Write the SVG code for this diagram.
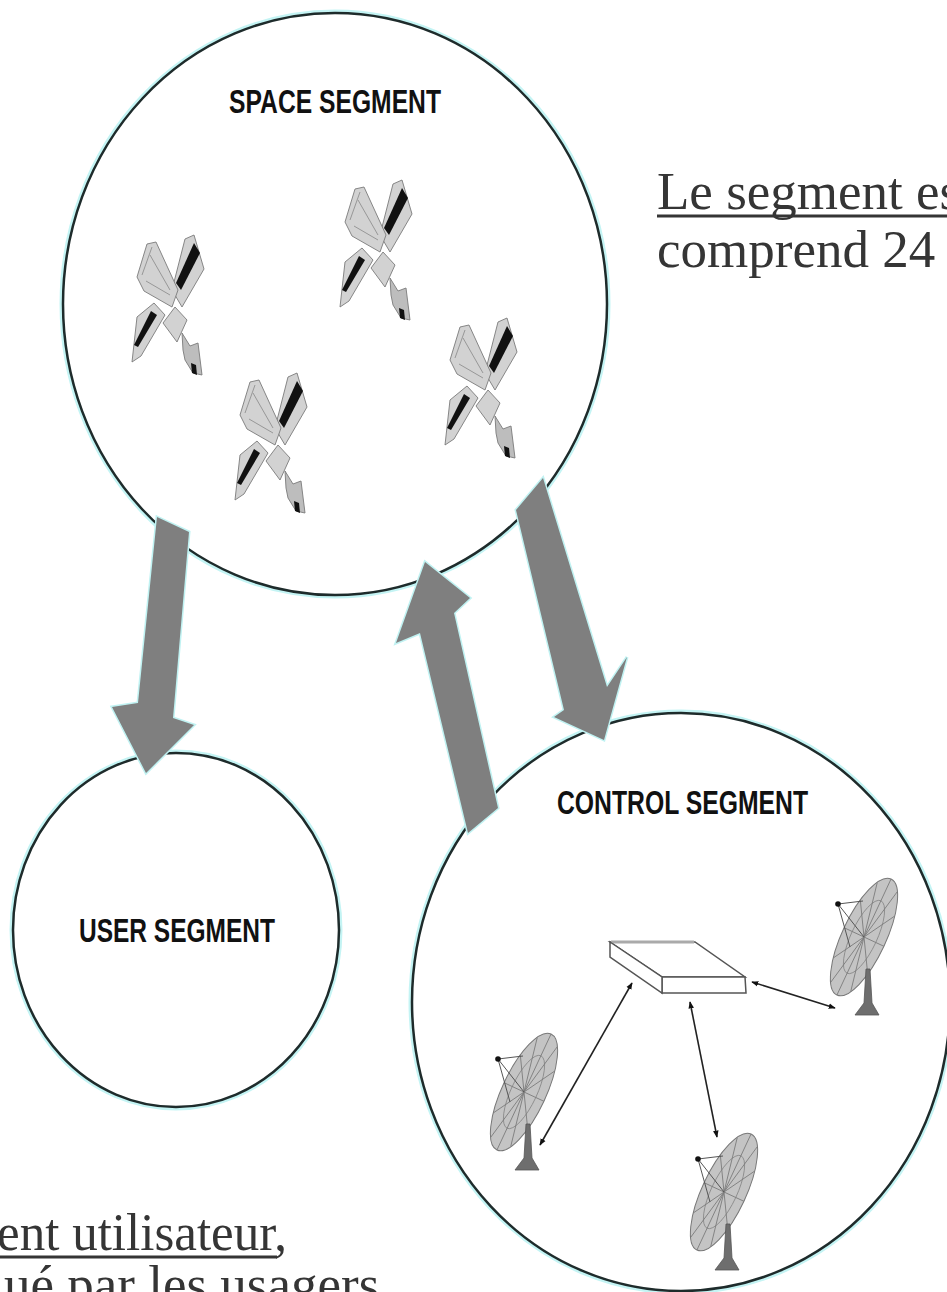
<svg xmlns="http://www.w3.org/2000/svg" xmlns:xlink="http://www.w3.org/1999/xlink" width="947" height="1292" viewBox="0 0 947 1292">
<style>
.seg{fill:#fff;stroke:#1e2b2b;stroke-width:2.5}
.halo{fill:none;stroke:#c4f4f4;stroke-width:7}
.lbl{font-family:"Liberation Sans",Arial,sans-serif;font-weight:bold;fill:#111}
.para{font-family:"Liberation Serif","Times New Roman",serif;font-size:53px;fill:#353535}
.big{fill:#7f7f7f;stroke:#c0f2f2;stroke-width:3;paint-order:stroke}
.sp{fill:#d2d2d2;stroke:#7a7a7a;stroke-width:0.9}
.blk{fill:#111}
.dl{stroke:#222;stroke-width:1.6;fill:none;marker-start:url(#ah);marker-end:url(#ah)}
.ul{stroke:#353535;stroke-width:3}
</style>
<defs>
<marker id="ah" viewBox="0 0 10 10" refX="9" refY="5" markerWidth="7" markerHeight="7" orient="auto-start-reverse" markerUnits="userSpaceOnUse">
<path d="M0,1 L10,5 L0,9 z" fill="#111"/>
</marker>
<g id="sat">
<polygon class="sp" points="55,4 64,0 74,34 52,72 42,55"/>
<polygon class="blk" points="64,8 70,18 51,55 46,48"/>
<polygon class="sp" points="2,127 7,82 24,68 35,80 11,121"/>
<polygon class="blk" points="4,110 21,76 27,80 8,112"/>
<polygon class="sp" points="7,42 17,9 26,7 48,55 42,72 14,56"/>
<path d="M12,40 L22,12 M16,46 L40,60 M20,20 L40,55" stroke="#888" stroke-width="0.8" fill="none"/>
<polygon class="sp" points="45,72 57,85 47,107 33,88" fill="#c8c8c8"/>
<polygon class="sp" points="52,98 60,111 68,108 72,140 63,138 55,125 53,115" style="fill:#bdbdbd"/>
<polygon class="blk" points="61,128 66,130 67,140 62,138"/>
</g>
<g id="dish">
<g transform="translate(31,60) rotate(25)">
<ellipse cx="0" cy="0" rx="22" ry="64" fill="#c4c4c4" stroke="#777" stroke-width="1"/>
<ellipse cx="0" cy="0" rx="13" ry="40" fill="none" stroke="#888" stroke-width="0.8"/>
<path d="M0,0 L0,-64 M0,0 L11,-55 M0,0 L19,-32 M0,0 L22,0 M0,0 L19,32 M0,0 L11,55 M0,0 L0,64 M0,0 L-11,55 M0,0 L-19,32 M0,0 L-22,0 M0,0 L-19,-32 M0,0 L-11,-55" stroke="#7a7a7a" stroke-width="0.8"/>
</g>
<path d="M5,27 L30,24 M5,27 L17,70 M5,27 L31,60" stroke="#555" stroke-width="1" fill="none"/>
<circle cx="5" cy="27" r="2.8" fill="#111"/>
<polygon points="33,92 37,92 39,126 46,138 22,138 31,126" fill="#6e6e6e" stroke="#555" stroke-width="0.8"/>
</g>
</defs>
<rect width="947" height="1292" fill="#fff"/>

<g id="space-segment">
<ellipse class="halo" cx="335" cy="304" rx="272" ry="291"/>
<ellipse class="seg" cx="335" cy="304" rx="272" ry="291"/>
<text class="lbl" x="229" y="113" font-size="33" textLength="212" lengthAdjust="spacingAndGlyphs">SPACE SEGMENT</text>
<use xlink:href="#sat" x="130" y="235"/>
<use xlink:href="#sat" x="338" y="180"/>
<use xlink:href="#sat" x="233" y="373"/>
<use xlink:href="#sat" x="443" y="318"/>
</g>

<g id="user-segment">
<ellipse class="halo" cx="176" cy="930" rx="163" ry="177"/>
<ellipse class="seg" cx="176" cy="930" rx="163" ry="177"/>
<text class="lbl" x="79" y="942" font-size="34" textLength="196" lengthAdjust="spacingAndGlyphs">USER SEGMENT</text>
</g>

<g id="control-segment">
<ellipse class="halo" cx="681" cy="1002" rx="269" ry="289"/>
<ellipse class="seg" cx="681" cy="1002" rx="269" ry="289"/>
<text class="lbl" x="557" y="814" font-size="34" textLength="251" lengthAdjust="spacingAndGlyphs">CONTROL SEGMENT</text>
<g id="control-station">
<polygon points="610,942 695,942 745,977 662,977" fill="#fff" stroke="#555" stroke-width="1.5"/>
<line x1="611" y1="942" x2="694" y2="942" stroke="#aaa" stroke-width="3"/>
<polygon points="662,977 745,977 746,993 662,993" fill="#fff" stroke="#555" stroke-width="1.5"/>
<polygon points="610,942 662,977 662,993 610,957" fill="#fff" stroke="#555" stroke-width="1.5"/>
</g>
<use id="dish-right" xlink:href="#dish" x="833" y="877"/>
<use id="dish-left" xlink:href="#dish" x="493" y="1032"/>
<use id="dish-bottom" xlink:href="#dish" x="693" y="1132"/>
<g id="control-links">
<line class="dl" x1="632" y1="983" x2="540" y2="1145"/>
<line class="dl" x1="690" y1="1002" x2="717" y2="1137"/>
<line class="dl" x1="752" y1="982" x2="835" y2="1008"/>
</g>
</g>

<g id="connectors">
<polygon class="big" points="157,517 189,532 173,718 194,725 146,773 112,707 138,703"/>
<polygon class="big" points="425,562 470,598 454,613 498,808 468,833 420,633 396,643"/>
<polygon class="big" points="516,510 543,478 607,687 627,657 604,740 554,717 564,710"/>
</g>

<g id="texts">
<text class="para" x="657" y="209">Le segment es</text>
<line class="ul" x1="657" y1="216" x2="947" y2="216"/>
<text class="para" x="657" y="267">comprend 24</text>
<text class="para" x="-3" y="1250" textLength="290" lengthAdjust="spacingAndGlyphs">ent utilisateur,</text>
<line class="ul" x1="0" y1="1257" x2="277" y2="1257"/>
<text class="para" x="4" y="1302">ué par les usagers</text>
</g>
</svg>
